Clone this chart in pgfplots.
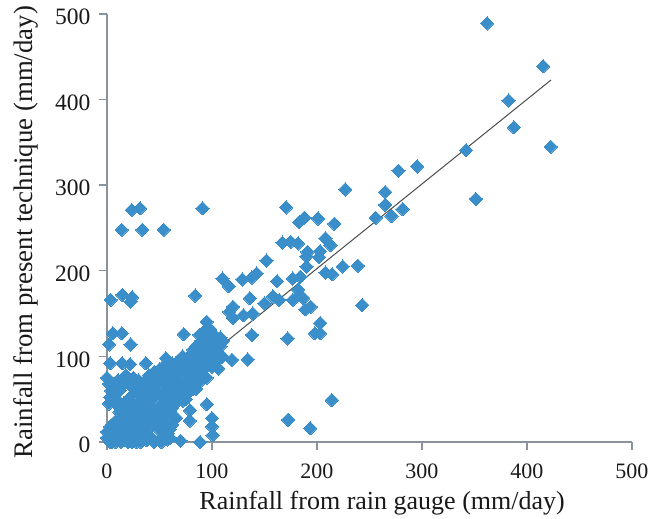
\documentclass[border=0pt]{standalone}
\usepackage{pgfplots}
\pgfplotsset{compat=1.18}
\usepackage{fontspec}
\setmainfont{Liberation Serif}
\definecolor{ptblue}{HTML}{3A8FCB}
\definecolor{axgray}{HTML}{8A929C}
\definecolor{fitline}{HTML}{484C50}
\pgfplotstableread{
x y
362 489
415.5 439
382.5 399
387.6 367.6
422.6 345
342 341
351.4 284
295.5 322
277.5 317
281.5 272
271 264
265 277
265 292
256 262
227 295
239 206
224.5 205
214.5 196
216.5 255
213 230
208 238
203 223
202 216
201 261
191 222
190 217
190 205
188 262
183 257
184 193
182 232
182 178
177 191
175 234
170.6 274
167 233
162 188
152 212
142.5 197
138 192
129 190
116 182
110 191
91 273
54 248
33.6 248
31.5 273
23.5 271
14 248
3.5 166
14.6 172
24 169
22.5 164
84 171
136 168
150 162
120 158
116.5 152
120 145
130 148
139 150
95 140.5
138 125
73 126
100.6 127
92 129
5.4 127
14 127
2 114
22.5 114
119 96
134 96.5
106 86
93 76
56 98
37 92
3 92
14.5 92
22 91
0 75
10.5 72
25 75
6 61
79 37
79 25
95 44
100 28
100 18
100.6 8
70 1.5
88.6 0
172 121
187 168
194 158
189 155
183 172
158 170
164 166
177 166
243 160
172.5 26
193.5 16
214 49
198 127
203 139
203 127
208 198
0 5
0 12
2 2
3 18
5 0
5 20
7 8
9 44
8 15
9 50
10 3
10 22
12 35
12 60
13 0
14 12
15 28
16 45
17 6
18 20
20 0
20 38
21 14
22 52
23 65
24 5
25 30
26 18
27 42
28 0
29 58
30 10
30 24
32 36
33 48
34 3
35 62
36 16
37 28
38 55
40 8
40 42
41 34
42 68
43 20
44 50
45 0
46 26
47 60
48 38
50 14
50 72
52 44
53 54
54 4
55 20
55 66
56 36
58 78
58 48
60 60
60 15
62 40
62 70
64 52
65 82
66 60
68 72
70 56
70 85
72 48
72 66
74 80
75 60
76 90
78 72
80 66
80 85
82 95
84 76
85 62
86 90
88 100
88 70
90 82
92 105
93 92
95 75
96 112
98 100
100 88
100 118
102 108
104 122
105 95
108 112
2 45
3 52
4 60
2 68
8 68
15 66
20 70
28 64
18 78
30 72
35 70
40 78
45 82
50 85
45 70
38 68
52 78
55 90
60 85
62 92
68 95
72 100
65 75
78 100
82 108
75 88
85 112
90 118
95 125
98 132
88 125
25 45
30 40
35 35
38 22
45 38
52 32
55 28
58 10
62 20
65 45
68 50
72 55
75 50
78 58
82 62
85 68
90 75
92 85
96 90
100 95
102 100
106 104
110 100
110 118
108 122
100 108
96 98
3 0
8 0
16 2
24 0
32 0
38 2
42 5
50 3
58 3
52 0
60 5
110 117
91 105
20 28
12 26
8 24
24 22
18 34
6 12
66 28
62 30
}\pts
\begin{document}
\begin{tikzpicture}
\useasboundingbox (-107pt,-77pt) rectangle (558pt,442pt);
\begin{axis}[
  scale only axis, width=525pt, height=428pt,
  xmin=0, xmax=500, ymin=0, ymax=500,
  clip=false,
  axis lines=left,
  axis line style={axgray, line width=1.4pt, -},
  xtick={0,100,200,300,400,500},
  ytick={0,100,200,300,400,500},
  tick style={axgray, line width=1.4pt},
  tick align=outside,
  major tick length=8pt,
  /pgf/number format/assume math mode=true,
  xticklabel style={font=\fontsize{22}{24}\selectfont, text=black!90, yshift=-10pt},
  yticklabel style={font=\fontsize{23.5}{26}\selectfont, text=black!90, xshift=-5pt, yshift=-3pt},
  xlabel={Rainfall from rain gauge (mm/day)},
  ylabel={Rainfall from present technique (mm/day)},
  xlabel style={font=\fontsize{26}{28}\selectfont, text=black!90, at={(axis description cs:0.524,-0.143)}, anchor=center},
  ylabel style={font=\fontsize{26.8}{28}\selectfont, text=black!90, at={(axis description cs:-0.155,0.49)}, anchor=center, rotate=0},
]
\addplot[only marks, mark=square*, mark size=4.7pt, mark options={ptblue, fill=ptblue, line width=0pt, rotate=45}] table[x=x,y=y] {\pts};
\addplot[fitline, line width=1pt] coordinates {(0,5) (423,423)};
\end{axis}
\end{tikzpicture}
\end{document}
